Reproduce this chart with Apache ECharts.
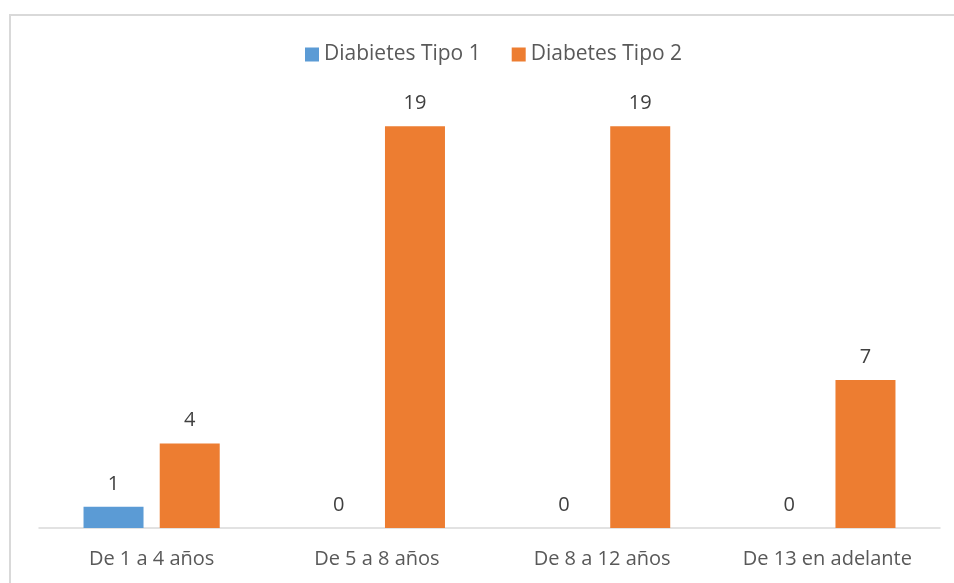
<!DOCTYPE html>
<html>
<head>
<meta charset="utf-8">
<script src="https://cdn.jsdelivr.net/npm/echarts@6/dist/echarts.min.js"></script>
<style>
html,body{margin:0;padding:0;background:#fff;}
#frame{position:absolute;left:9px;top:14px;width:960px;height:600px;border:2px solid #d9d9d9;box-sizing:border-box;}
#chart{position:absolute;left:0;top:0;width:954px;height:583px;}
</style>
</head>
<body>
<div id="frame"></div>
<div id="chart"></div>
<script>
const categories = ['De 1 a 4 años', 'De 5 a 8 años', 'De 8 a 12 años', 'De 13 en adelante'];
const tipo1 = [1, 0, 0, 0];
const tipo2 = [4, 19, 19, 7];
const seriesNames = ['Diabietes Tipo 1', 'Diabetes Tipo 2'];

const FONT = '"Open Sans", sans-serif';
const chart = echarts.init(document.getElementById('chart'), null, {renderer: 'canvas'});
const labelCfg = {show: true, position: 'top', distance: 13, color: '#404040', fontSize: 20, fontFamily: FONT};
chart.setOption({
  animation: false,
  legend: {
    data: seriesNames,
    top: 39,
    left: 300,
    itemWidth: 14,
    itemHeight: 14,
    itemGap: 31,
    icon: 'rect',
    textStyle: {color: '#595959', fontSize: 21, fontFamily: FONT}
  },
  grid: {left: 39, right: 14, top: 105, bottom: 55, containLabel: false},
  xAxis: {
    type: 'category',
    data: categories,
    axisLine: {show: true, lineStyle: {color: '#d9d9d9', width: 1.5}},
    axisTick: {show: false},
    axisLabel: {color: '#595959', fontSize: 20, fontFamily: FONT, margin: 21}
  },
  yAxis: {
    type: 'value', min: 0, max: 20, interval: 5,
    show: false,
    splitLine: {show: false}
  },
  series: [
    {name: seriesNames[0], type: 'bar', data: tipo1, barWidth: 60, barGap: '27%',
     itemStyle: {color: '#5b9bd5'}, label: labelCfg},
    {name: seriesNames[1], type: 'bar', data: tipo2, barWidth: 60, barGap: '27%',
     itemStyle: {color: '#ed7d31'}, label: labelCfg}
  ]
});
</script>
</body>
</html>
